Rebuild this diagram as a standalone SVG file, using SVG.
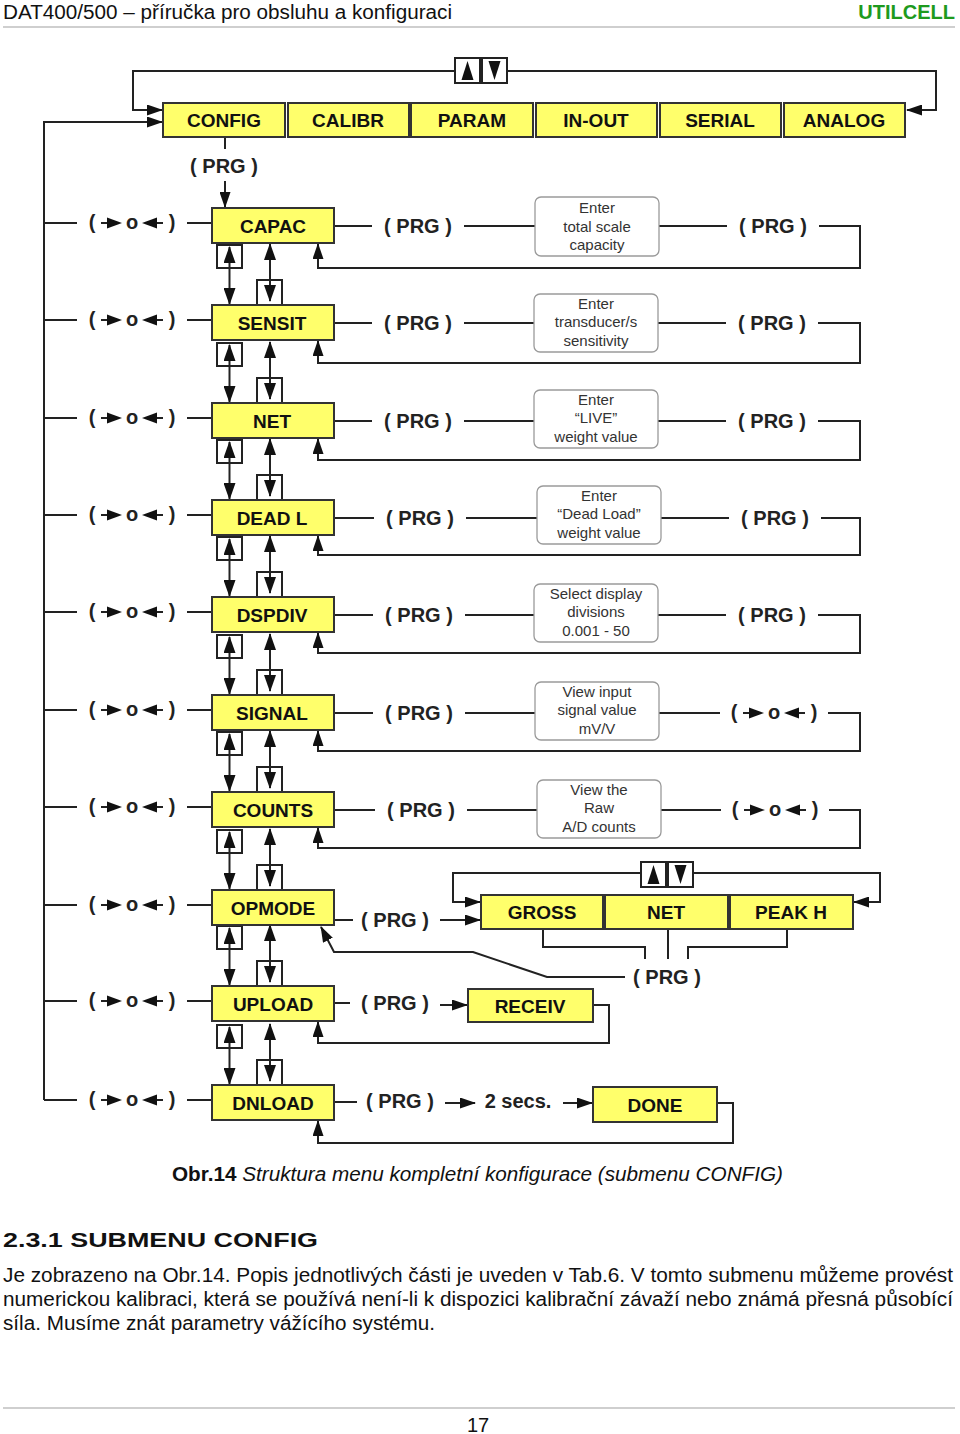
<svg xmlns="http://www.w3.org/2000/svg" xmlns:xlink="http://www.w3.org/1999/xlink" width="960" height="1434" viewBox="0 0 960 1434">
<style>
.ln{stroke:#222;stroke-width:2;fill:none}
.ar{stroke:#222;stroke-width:2;fill:none;marker-end:url(#ah)}
.ar2{stroke:#222;stroke-width:2;fill:none;marker-start:url(#av);marker-end:url(#av)}
.nd{fill:#ffff6b;stroke:#333;stroke-width:2}
.nt{font-family:"Liberation Sans",Arial,sans-serif;font-weight:bold;font-size:19px;fill:#111;text-anchor:middle}
.prg{font-family:"Liberation Sans",Arial,sans-serif;font-weight:bold;font-size:20px;fill:#222;text-anchor:middle}
.sy{font-family:"Liberation Sans",Arial,sans-serif;font-weight:bold;font-size:20px;fill:#222;text-anchor:middle}
.bx{fill:#fff;stroke:#9a9a9a;stroke-width:1.3}
.bt{font-family:"Liberation Sans",Arial,sans-serif;font-size:15px;fill:#333;text-anchor:middle}
.btn{fill:#fff;stroke:#222;stroke-width:2}
.tx{font-family:"Liberation Sans",Arial,sans-serif;font-size:20px;fill:#111}
</style>
<defs>
<marker id="ah" viewBox="0 0 16 11" refX="15" refY="5.5" markerWidth="16" markerHeight="11" markerUnits="userSpaceOnUse" orient="auto-start-reverse">
<path d="M0,0 L16,5.5 L0,11 Z" fill="#111"/>
</marker>
<marker id="av" viewBox="0 0 17 12" refX="16" refY="6" markerWidth="17" markerHeight="12" markerUnits="userSpaceOnUse" orient="auto-start-reverse">
<path d="M0,0 L17,6 L0,12 Z" fill="#111"/>
</marker>
<g id="sw">
<path d="M-31,0 H-22" class="ln"/>
<path d="M-25,-5.5 L-10,0 L-25,5.5 Z" fill="#111"/>
<path d="M31,0 H22" class="ln"/>
<path d="M25,-5.5 L10,0 L25,5.5 Z" fill="#111"/>
</g>
<g id="pair">
<rect x="217" y="2" width="25" height="23" class="btn"/>
<line x1="229.5" y1="4" x2="229.5" y2="61" class="ar2"/>
<rect x="257" y="37" width="25" height="25" class="btn"/>
<line x1="270" y1="1" x2="270" y2="58" class="ar2"/>
</g>
<g id="updn">
<rect x="0" y="0" width="25" height="25" class="btn"/>
<path d="M12.5,3 L6.5,22 L18.5,22 Z" fill="#111"/>
<rect x="27" y="0" width="25" height="25" class="btn"/>
<path d="M39.5,22 L33.5,3 L45.5,3 Z" fill="#111"/>
</g>
</defs>
<rect width="960" height="1434" fill="#fff"/>

<!-- header -->
<g id="header">
<text x="3" y="19" class="tx" font-size="19" textLength="449" lengthAdjust="spacingAndGlyphs">DAT400/500 – příručka pro obsluhu a konfiguraci</text>
<text x="955" y="19" font-family="Liberation Sans,Arial,sans-serif" font-weight="bold" font-size="20" fill="#1e9a1e" text-anchor="end">UTILCELL</text>
<rect x="3" y="26" width="952" height="2" fill="#cfcfcf"/>
</g>

<!-- connectors -->
<g id="connectors">
<path d="M454,71 H133 V110 H162" class="ar"/>
<path d="M507,71 H936 V110 H907" class="ar"/>
<path d="M44,1100 V122 H162" class="ar"/>
<path d="M225,137 V149" class="ln"/>
<text x="224" y="173" class="prg">( PRG )</text>
<path d="M225,181 V207" class="ar"/>

<!-- left side lines -->
<path d="M44,223 H77 M187,223 H212" class="ln"/>
<path d="M44,320 H77 M187,320 H212" class="ln"/>
<path d="M44,418 H77 M187,418 H212" class="ln"/>
<path d="M44,515 H77 M187,515 H212" class="ln"/>
<path d="M44,612 H77 M187,612 H212" class="ln"/>
<path d="M44,710 H77 M187,710 H212" class="ln"/>
<path d="M44,807 H77 M187,807 H212" class="ln"/>
<path d="M44,905 H77 M187,905 H212" class="ln"/>
<path d="M44,1001 H77 M187,1001 H212" class="ln"/>
<path d="M44,1100 H77 M187,1100 H212" class="ln"/>

<!-- between nodes -->
<use href="#pair" xlink:href="#pair" transform="translate(0,243)"/>
<use href="#pair" xlink:href="#pair" transform="translate(0,341)"/>
<use href="#pair" xlink:href="#pair" transform="translate(0,438)"/>
<use href="#pair" xlink:href="#pair" transform="translate(0,535)"/>
<use href="#pair" xlink:href="#pair" transform="translate(0,633)"/>
<use href="#pair" xlink:href="#pair" transform="translate(0,730)"/>
<use href="#pair" xlink:href="#pair" transform="translate(0,828)"/>
<use href="#pair" xlink:href="#pair" transform="translate(0,924)"/>
<use href="#pair" xlink:href="#pair" transform="translate(0,1023)"/>

<!-- row 1 -->
<path d="M334,226 H372 M464,226 H535 M659,226 H727" class="ln"/>
<path d="M819,226 H860 V268 H318 V244" class="ar"/>
<text x="418" y="233" class="prg">( PRG )</text>
<text x="773" y="233" class="prg">( PRG )</text>
<!-- row 2 -->
<path d="M334,323 H372 M464,323 H534 M658,323 H726" class="ln"/>
<path d="M818,323 H860 V363 H318 V341" class="ar"/>
<text x="418" y="330" class="prg">( PRG )</text>
<text x="772" y="330" class="prg">( PRG )</text>
<!-- row 3 -->
<path d="M334,421 H372 M464,421 H534 M658,421 H726" class="ln"/>
<path d="M818,421 H860 V460 H318 V439" class="ar"/>
<text x="418" y="428" class="prg">( PRG )</text>
<text x="772" y="428" class="prg">( PRG )</text>
<!-- row 4 -->
<path d="M334,518 H374 M466,518 H537 M661,518 H729" class="ln"/>
<path d="M821,518 H860 V555 H318 V536" class="ar"/>
<text x="420" y="525" class="prg">( PRG )</text>
<text x="775" y="525" class="prg">( PRG )</text>
<!-- row 5 -->
<path d="M334,615 H373 M465,615 H534 M658,615 H726" class="ln"/>
<path d="M818,615 H860 V653 H318 V633" class="ar"/>
<text x="419" y="622" class="prg">( PRG )</text>
<text x="772" y="622" class="prg">( PRG )</text>
<!-- row 6 -->
<path d="M334,713 H373 M465,713 H535 M659,713 H720" class="ln"/>
<path d="M828,713 H860 V751 H318 V731" class="ar"/>
<text x="419" y="720" class="prg">( PRG )</text>
<use href="#sw" xlink:href="#sw" transform="translate(774,713)"/>
<text x="734 774 814" y="719" class="sy">(o)</text>
<!-- row 7 -->
<path d="M334,810 H375 M467,810 H537 M661,810 H721" class="ln"/>
<path d="M829,810 H860 V848 H318 V828" class="ar"/>
<text x="421" y="817" class="prg">( PRG )</text>
<use href="#sw" xlink:href="#sw" transform="translate(775,810)"/>
<text x="735 775 815" y="816" class="sy">(o)</text>

<!-- OPMODE -->
<path d="M334,920 H353" class="ln"/>
<text x="395" y="927" class="prg">( PRG )</text>
<path d="M440,920 H480" class="ar"/>
<path d="M641,873 H453 V902 H480" class="ar"/>
<path d="M693,873 H880 V902 H854" class="ar"/>
<path d="M543,929 V947 H645 V959 M668,929 V959 M787,929 V947 H688 V959" class="ln"/>
<text x="667" y="984" class="prg">( PRG )</text>
<path d="M625,977 H547 L473,952 H334 L321,927" class="ar"/>

<!-- UPLOAD -->
<path d="M334,1003 H350" class="ln"/>
<text x="395" y="1010" class="prg">( PRG )</text>
<path d="M440,1005 H467" class="ar"/>
<path d="M593,1005 H609 V1043 H318 V1022" class="ar"/>

<!-- DNLOAD -->
<path d="M334,1102 H357" class="ln"/>
<text x="400" y="1108" class="prg">( PRG )</text>
<path d="M445,1103 H475" class="ar"/>
<text x="518" y="1108" class="prg">2 secs.</text>
<path d="M563,1103 H592" class="ar"/>
<path d="M717,1103 H733 V1143 H318 V1121" class="ar"/>

<!-- left symbols -->
<use href="#sw" xlink:href="#sw" transform="translate(132,223)"/>
<use href="#sw" xlink:href="#sw" transform="translate(132,320)"/>
<use href="#sw" xlink:href="#sw" transform="translate(132,418)"/>
<use href="#sw" xlink:href="#sw" transform="translate(132,515)"/>
<use href="#sw" xlink:href="#sw" transform="translate(132,612)"/>
<use href="#sw" xlink:href="#sw" transform="translate(132,710)"/>
<use href="#sw" xlink:href="#sw" transform="translate(132,807)"/>
<use href="#sw" xlink:href="#sw" transform="translate(132,905)"/>
<use href="#sw" xlink:href="#sw" transform="translate(132,1001)"/>
<use href="#sw" xlink:href="#sw" transform="translate(132,1100)"/>
<text x="92 132 172" y="229" class="sy">(o)</text>
<text x="92 132 172" y="326" class="sy">(o)</text>
<text x="92 132 172" y="424" class="sy">(o)</text>
<text x="92 132 172" y="521" class="sy">(o)</text>
<text x="92 132 172" y="618" class="sy">(o)</text>
<text x="92 132 172" y="716" class="sy">(o)</text>
<text x="92 132 172" y="813" class="sy">(o)</text>
<text x="92 132 172" y="911" class="sy">(o)</text>
<text x="92 132 172" y="1007" class="sy">(o)</text>
<text x="92 132 172" y="1106" class="sy">(o)</text>
</g>

<!-- up/down buttons -->
<g id="btn-top"><use href="#updn" xlink:href="#updn" transform="translate(455,58)"/></g>
<g id="btn-mode"><use href="#updn" xlink:href="#updn" transform="translate(641,862)"/></g>

<!-- top menu -->
<g id="n-config"><rect x="163" y="103" width="122" height="34" class="nd"/><text x="224" y="127" class="nt">CONFIG</text></g>
<g id="n-calibr"><rect x="288" y="103" width="121" height="34" class="nd"/><text x="348" y="127" class="nt">CALIBR</text></g>
<g id="n-param"><rect x="411" y="103" width="122" height="34" class="nd"/><text x="472" y="127" class="nt">PARAM</text></g>
<g id="n-inout"><rect x="536" y="103" width="121" height="34" class="nd"/><text x="596" y="127" class="nt">IN-OUT</text></g>
<g id="n-serial"><rect x="660" y="103" width="121" height="34" class="nd"/><text x="720" y="127" class="nt">SERIAL</text></g>
<g id="n-analog"><rect x="784" y="103" width="121" height="34" class="nd"/><text x="844" y="127" class="nt">ANALOG</text></g>

<!-- column nodes -->
<g id="n-capac"><rect x="212" y="208" width="122" height="35" class="nd"/><text x="273" y="233" class="nt">CAPAC</text></g>
<g id="n-sensit"><rect x="212" y="305" width="122" height="35" class="nd"/><text x="272" y="330" class="nt">SENSIT</text></g>
<g id="n-net"><rect x="212" y="403" width="122" height="35" class="nd"/><text x="272" y="428" class="nt">NET</text></g>
<g id="n-deadl"><rect x="212" y="500" width="122" height="35" class="nd"/><text x="272" y="525" class="nt">DEAD L</text></g>
<g id="n-dspdiv"><rect x="212" y="597" width="122" height="35" class="nd"/><text x="272" y="622" class="nt">DSPDIV</text></g>
<g id="n-signal"><rect x="212" y="695" width="122" height="35" class="nd"/><text x="272" y="720" class="nt">SIGNAL</text></g>
<g id="n-counts"><rect x="212" y="792" width="122" height="35" class="nd"/><text x="273" y="817" class="nt">COUNTS</text></g>
<g id="n-opmode"><rect x="212" y="890" width="122" height="35" class="nd"/><text x="273" y="915" class="nt">OPMODE</text></g>
<g id="n-upload"><rect x="212" y="986" width="122" height="35" class="nd"/><text x="273" y="1011" class="nt">UPLOAD</text></g>
<g id="n-dnload"><rect x="212" y="1085" width="122" height="35" class="nd"/><text x="273" y="1110" class="nt">DNLOAD</text></g>

<!-- mode nodes -->
<g id="n-gross"><rect x="481" y="895" width="122" height="34" class="nd"/><text x="542" y="919" class="nt">GROSS</text></g>
<g id="n-net2"><rect x="605" y="895" width="123" height="34" class="nd"/><text x="666" y="919" class="nt">NET</text></g>
<g id="n-peakh"><rect x="730" y="895" width="123" height="34" class="nd"/><text x="791" y="919" class="nt">PEAK H</text></g>
<g id="n-receiv"><rect x="468" y="989" width="125" height="33" class="nd"/><text x="530" y="1013" class="nt">RECEIV</text></g>
<g id="n-done"><rect x="593" y="1087" width="124" height="35" class="nd"/><text x="655" y="1112" class="nt">DONE</text></g>

<!-- info boxes -->
<g id="b-capac"><rect x="535" y="197" width="124" height="59" rx="6" class="bx"/><text x="597" y="213" class="bt">Enter</text><text x="597" y="232" class="bt">total scale</text><text x="597" y="250" class="bt">capacity</text></g>
<g id="b-sensit"><rect x="534" y="294" width="124" height="58" rx="6" class="bx"/><text x="596" y="309" class="bt">Enter</text><text x="596" y="327" class="bt">transducer/s</text><text x="596" y="346" class="bt">sensitivity</text></g>
<g id="b-net"><rect x="534" y="390" width="124" height="58" rx="6" class="bx"/><text x="596" y="405" class="bt">Enter</text><text x="596" y="423" class="bt">“LIVE”</text><text x="596" y="442" class="bt">weight value</text></g>
<g id="b-deadl"><rect x="537" y="486" width="124" height="58" rx="6" class="bx"/><text x="599" y="501" class="bt">Enter</text><text x="599" y="519" class="bt">“Dead Load”</text><text x="599" y="538" class="bt">weight value</text></g>
<g id="b-dspdiv"><rect x="534" y="584" width="124" height="58" rx="6" class="bx"/><text x="596" y="599" class="bt">Select display</text><text x="596" y="617" class="bt">divisions</text><text x="596" y="636" class="bt">0.001 - 50</text></g>
<g id="b-signal"><rect x="535" y="682" width="124" height="58" rx="6" class="bx"/><text x="597" y="697" class="bt">View input</text><text x="597" y="715" class="bt">signal value</text><text x="597" y="734" class="bt">mV/V</text></g>
<g id="b-counts"><rect x="537" y="780" width="124" height="58" rx="6" class="bx"/><text x="599" y="795" class="bt">View the</text><text x="599" y="813" class="bt">Raw</text><text x="599" y="832" class="bt">A/D counts</text></g>

<!-- text below -->
<g id="caption">
<text x="172" y="1181" class="tx" font-size="20" textLength="611" lengthAdjust="spacingAndGlyphs"><tspan font-weight="bold">Obr.14</tspan><tspan font-style="italic"> Struktura menu kompletní konfigurace (submenu CONFIG)</tspan></text>
</g>
<g id="body">
<text x="3" y="1247" class="tx" font-size="26" font-weight="bold" textLength="315" lengthAdjust="spacingAndGlyphs">2.3.1 SUBMENU CONFIG</text>
<text x="3" y="1282" class="tx" textLength="950" lengthAdjust="spacingAndGlyphs">Je zobrazeno na Obr.14. Popis jednotlivých části je uveden v Tab.6. V tomto submenu můžeme provést</text>
<text x="3" y="1306" class="tx" textLength="950" lengthAdjust="spacingAndGlyphs">numerickou kalibraci, která se používá není-li k dispozici kalibrační závaží nebo známá přesná působící</text>
<text x="3" y="1330" class="tx" textLength="432" lengthAdjust="spacingAndGlyphs">síla. Musíme znát parametry vážícího systému.</text>
</g>
<g id="footer">
<rect x="3" y="1407" width="952" height="2" fill="#cfcfcf"/>
<text x="478" y="1432" class="tx" text-anchor="middle">17</text>
</g>
</svg>
